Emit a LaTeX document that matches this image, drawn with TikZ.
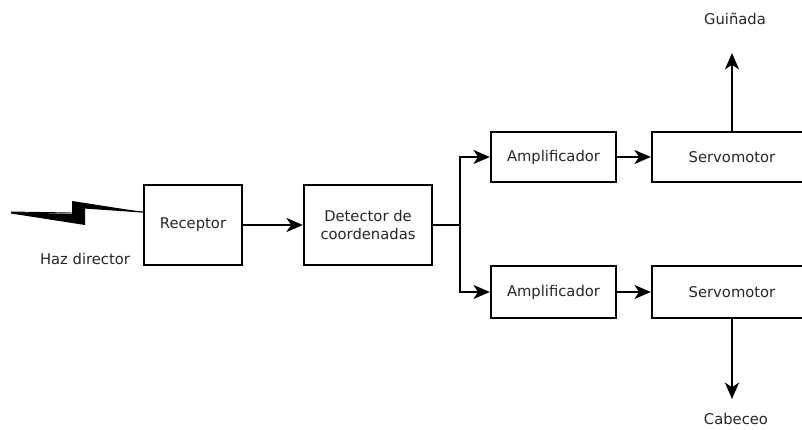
\documentclass[tikz,border=0pt]{standalone}
\usepackage{fontspec}
\setmainfont{DejaVu Sans}
\usetikzlibrary{arrows.meta}
\begin{document}
\begin{tikzpicture}[x=0.03cm,y=-0.03cm,
  every node/.style={font=\fontsize{12.6}{15}\selectfont, text=black!85},
  blk/.style={draw=black, line width=2pt, rectangle, inner sep=0pt, align=center},
  wire/.style={draw=black, line width=2pt},
  arr/.style={wire, -{Stealth[length=14pt, width=12pt, inset=4pt]}}]
\useasboundingbox (0,0) rectangle (802,430);
\clip (0,0) rectangle (802,430);
% blocks
\node[blk, minimum width=2.94cm, minimum height=2.4cm] (rec) at (193,225) {Receptor};
\node[blk, minimum width=3.84cm, minimum height=2.4cm] (det) at (368,225) {Detector de\\coordenadas};
\node[blk, minimum width=3.75cm, minimum height=1.5cm] (amp1) at (553.5,157) {Amplificador};
\node[blk, minimum width=3.75cm, minimum height=1.56cm] (amp2) at (553.5,292) {Amplificador};
\node[blk, minimum width=4.8cm, minimum height=1.5cm] (srv1) at (732,157) {Servomotor};
\node[blk, minimum width=4.8cm, minimum height=1.56cm] (srv2) at (732,292) {Servomotor};
% labels
\node (haz) at (85,259) {Haz director};
\node (gui) at (735,19) {Guiñada};
\node (cab) at (736,419) {Cabeceo};
% lightning bolt
\coordinate (tip) at (11,212);
\coordinate (hit) at (rec.west |- tip);
\fill[black] (tip) -- (72,214) -- (72,201) -- (hit) -- (85,208) -- (85,225) -- (11,213.5) -- cycle;
\draw[line width=0.8pt] (tip) -- (72,213);
\draw[line width=1pt] (85,208) -- (hit);
% connectors
\coordinate (j) at (460,225);
\coordinate (up) at (732,53);
\coordinate (down) at (732,399);
\draw[arr] (rec.east) -- (det.west);
\draw[wire] (det.east) -- (j);
\draw[arr] (j) |- (amp1.west);
\draw[arr] (j) |- (amp2.west);
\draw[arr] (amp1.east) -- (srv1.west);
\draw[arr] (amp2.east) -- (srv2.west);
\draw[arr] (srv1.north) -- (up);
\draw[arr] (srv2.south) -- (down);
\end{tikzpicture}
\end{document}
